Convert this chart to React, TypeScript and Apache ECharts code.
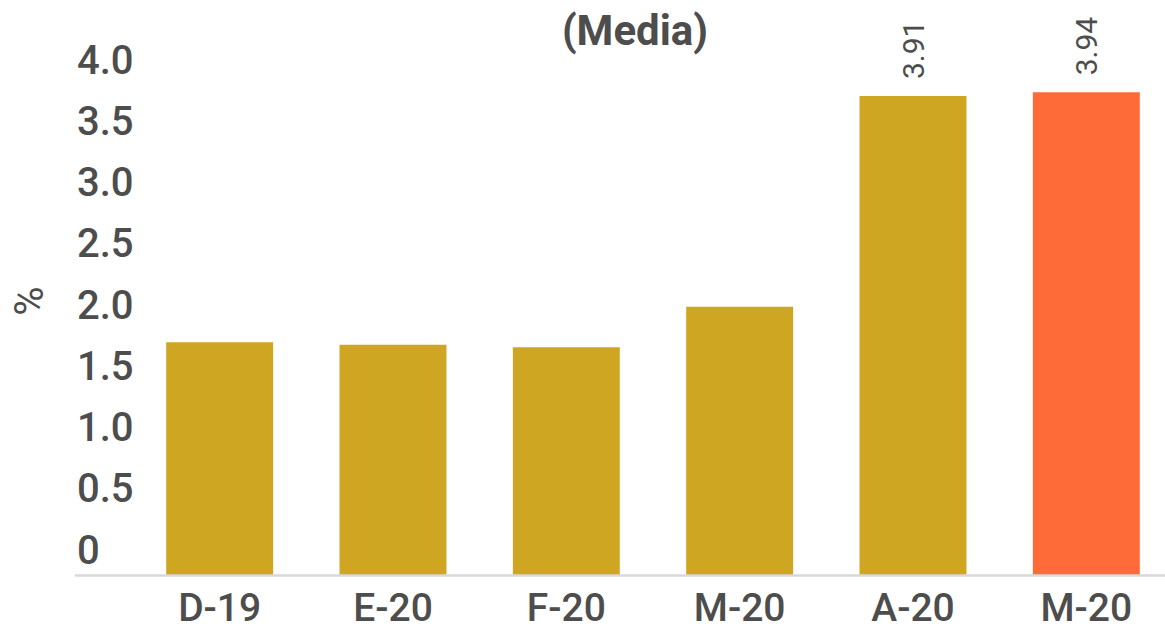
import React, { useEffect, useRef } from "react";
import * as echarts from "echarts";

const categories = ["D-19", "E-20", "F-20", "M-20", "A-20", "M-20"];
const values = [1.9, 1.88, 1.86, 2.19, 3.91, 3.94];
const showValueLabel = [false, false, false, false, true, true];
const barColors = ["#CFA622", "#CFA622", "#CFA622", "#CFA622", "#CFA622", "#FF6A39"];
const yTicks = { min: 0, max: 4, interval: 0.5 };
const titleText = "(Media)";
const yName = "%";

const TEXT = "#4d4d4d";
const FONT = "Roboto, 'Noto Sans', sans-serif";

export default function App() {
  const ref = useRef<HTMLDivElement>(null);
  useEffect(() => {
    if (!ref.current) return;
    const chart = echarts.init(ref.current, null, { renderer: "svg" });
    chart.setOption({
      animation: false,
      backgroundColor: "#ffffff",
      textStyle: { fontFamily: FONT },
      title: {
        text: titleText,
        left: 630,
        top: 4,
        textAlign: "center",
        textStyle: { fontSize: 42, fontWeight: "bold", color: TEXT, fontFamily: FONT },
      },
      grid: {
        left: 133,
        right: -8,
        top: 85,
        bottom: 54,
        containLabel: false,
        outerBoundsMode: "none",
      },
      xAxis: {
        type: "category",
        data: categories,
        axisLine: { show: false },
        axisTick: { show: false },
        axisLabel: { fontSize: 39, fontWeight: 500, color: TEXT, margin: 13, fontFamily: FONT },
      },
      yAxis: {
        type: "value",
        min: yTicks.min,
        max: yTicks.max,
        interval: yTicks.interval,
        splitLine: { show: false },
        axisLine: { show: false },
        axisTick: { show: false },
        name: yName,
        nameLocation: "middle",
        nameRotate: 90,
        nameGap: 84,
        nameTextStyle: { fontSize: 40, color: TEXT, fontFamily: FONT, padding: [0, 0, 0, 58] },
        axisLabel: {
          fontSize: 40,
          fontWeight: 500,
          color: TEXT,
          align: "left",
          margin: 56,
          verticalAlign: "bottom",
          lineHeight: 50,
          fontFamily: FONT,
          formatter: (v: number) => (v === 0 ? "0" : v.toFixed(1)),
        },
      },
      graphic: [
        {
          type: "line",
          shape: { x1: 75, y1: 575.5, x2: 1165, y2: 575.5 },
          style: { stroke: "#d9d9d9", lineWidth: 2.5 },
          z: 100,
        },
      ],
      series: [
        {
          type: "bar",
          barWidth: "61.7%",
          label: {
            show: false,
            position: "top",
            rotate: 90,
            align: "left",
            verticalAlign: "middle",
            distance: 17,
            color: TEXT,
            fontFamily: FONT,
            formatter: (p: any) => p.value.toFixed(2),
            fontSize: 30,
          },
          data: values.map((v, i) => ({
            value: v,
            itemStyle: { color: barColors[i] },
            label: { show: showValueLabel[i], fontSize: 30 },
          })),
        },
      ],
    });
    return () => chart.dispose();
  }, []);
  return (
    <div
      ref={ref}
      style={{ position: "fixed", left: 0, top: 0, width: 1165, height: 629 }}
    />
  );
}
